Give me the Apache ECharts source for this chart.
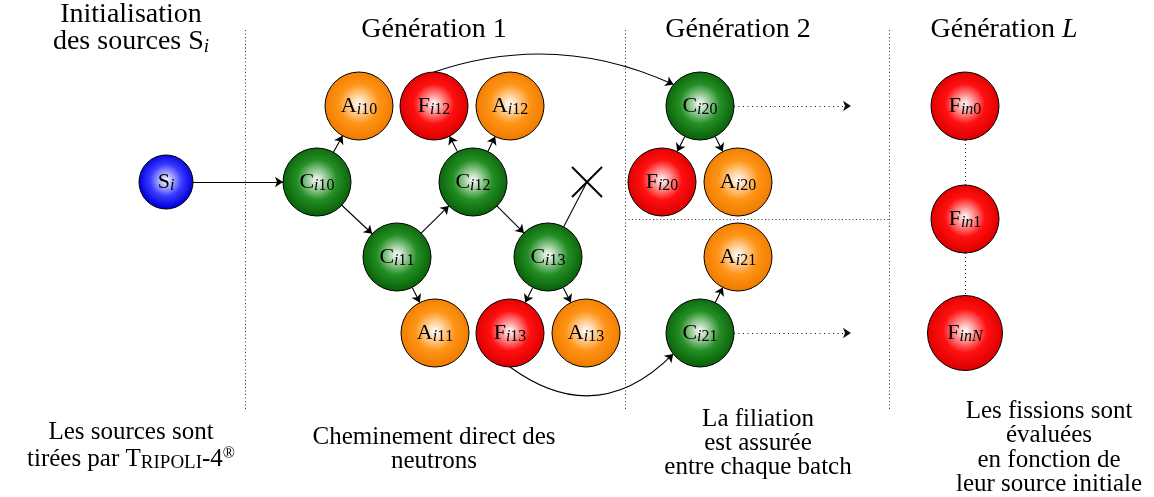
<!DOCTYPE html>
<html><head><meta charset="utf-8">
<script src="https://cdn.jsdelivr.net/npm/echarts@6/dist/echarts.min.js"></script>
<style>html,body{margin:0;padding:0;background:#fff}#c{width:1154px;height:497px}</style>
</head><body><div id="c"></div>
<script>
// ---- diagram data ----
const nodeIds    = ['Si','Ci10','Ai10','Fi12','Ai12','Ci12','Ci11','Ci13','Ai11','Fi13','Ai13','Ci20','Fi20','Ai20','Ai21','Ci21','Fin0','Fin1','FinN'];
const nodeLetter = ['S','C','A','F','A','C','C','C','A','F','A','C','F','A','A','C','F','F','F'];
const nodeSub    = ['i','i10','i10','i12','i12','i12','i11','i13','i11','i13','i13','i20','i20','i20','i21','i21','in0','in1','inN'];
const nodeX      = [166,317,359,434,510,473,397,548,435,510,586,700,662,738,738,700,965,965,965];
const nodeY      = [182,182,106,106,106,182,257,257,333,333,333,106,182,182,257,333,106,219,333];

const straightFrom = ['Si','Ci10','Ci10','Ci11','Ci11','Ci12','Ci12','Ci12','Ci13','Ci13','Ci20','Ci20','Ci21'];
const straightTo   = ['Ci10','Ai10','Ci11','Ci12','Ai11','Fi12','Ai12','Ci13','Fi13','Ai13','Fi20','Ai20','Ai21'];

const curveFrom = ['Fi12','Fi13'];
const curveTo   = ['Ci20','Ci21'];
const curveStartAngle = [-90, 90];
const curveEndAngle   = [-141, 142];
const curveBend       = [0.2, -0.43];

const killedFrom = 'Ci13';
const killedAt   = [587,182];

const continueFrom = ['Ci20','Ci21'];
const continueToX  = [851,851];

const fissionChain = [['Fin0','Fin1'],['Fin1','FinN']];

const dividerX = [245,625,889];
const dividerTop = 30, dividerBottom = 410;
const batchSplitY = 219;

const headerTexts = ['Initialisation\n{n|des sources S}{sub|i}', 'Génération 1', 'Génération 2', '{n|Génération }{it|L}'];
const footerTexts = ['Les sources sont\n{n|tirées par T}{sc|RIPOLI}{n|-4}{sup|®}',
                     'Cheminement direct des\nneutrons',
                     'La filiation\nest assurée\nentre chaque batch',
                     'Les fissions sont\névaluées\nen fonction de\nleur source initiale'];

// ---- styling / layout ----
const FONT = '"Liberation Serif", "DejaVu Serif", serif';
const ballColors = {
  S: ['#3a3aff', '#0000dd'],
  C: ['#248f24', '#0a640a'],
  A: ['#ff9416', '#f07d00'],
  F: ['#ff1010', '#e00000']
};
function ball(letter){
  const c = ballColors[letter];
  return {type:'radial', x:0.5, y:0.47, r:0.5, colorStops:[
    {offset:0, color:'#ffffff'}, {offset:0.58, color:c[0]}, {offset:1, color:c[1]}]};
}
function radius(i){ return nodeLetter[i]==='S' ? 27 : (nodeSub[i]==='inN' ? 37.5 : 34); }
const idx = id => nodeIds.indexOf(id);
function onCircle(i, dx, dy){ const L=Math.hypot(dx,dy), r=radius(i); return [nodeX[i]+dx/L*r, nodeY[i]+dy/L*r]; }
function atAngle(i, deg){ const a=deg*Math.PI/180; return onCircle(i, Math.cos(a), Math.sin(a)); }

function labelFor(i){
  let s = '{m|'+nodeLetter[i]+'}';
  for (const ch of nodeSub[i]) s += (/[0-9]/.test(ch) ? '{sd|'+ch+'}' : '{si|'+ch+'}');
  return s;
}

const arrowLines = [];
straightFrom.forEach((f,k)=>{
  const a=idx(f), b=idx(straightTo[k]);
  const dx=nodeX[b]-nodeX[a], dy=nodeY[b]-nodeY[a];
  arrowLines.push({coords:[onCircle(a,dx,dy), onCircle(b,-dx,-dy)]});
});
curveFrom.forEach((f,k)=>{
  const a=idx(f), b=idx(curveTo[k]);
  arrowLines.push({coords:[atAngle(a,curveStartAngle[k]), atAngle(b,curveEndAngle[k])], lineStyle:{curveness:curveBend[k]}});
});
const plainLines = [];
{
  const a=idx(killedFrom);
  plainLines.push({coords:[onCircle(a, killedAt[0]-nodeX[a], killedAt[1]-nodeY[a]), killedAt]});
}
const crossLines = [
  {coords:[[killedAt[0]-15,killedAt[1]-15],[killedAt[0]+15,killedAt[1]+15]]},
  {coords:[[killedAt[0]-15,killedAt[1]+15],[killedAt[0]+15,killedAt[1]-15]]}
];
const dottedArrows = continueFrom.map((f,k)=>{ const a=idx(f); return {coords:[onCircle(a,1,0),[continueToX[k],nodeY[a]]]}; });
const dottedPlain = fissionChain.map(([f,t])=>{ const a=idx(f), b=idx(t); return {coords:[onCircle(a,0,1), onCircle(b,0,-1)]}; });
const dividers = dividerX.map(x=>({coords:[[x,dividerTop],[x,dividerBottom]]}));
dividers.push({coords:[[dividerX[1],batchSplitY],[dividerX[2],batchSplitY]]});

const richBase = {
  n:{fontFamily:FONT, fontSize:28, fill:'#000', lineHeight:28},
  sub:{fontFamily:FONT, fontSize:19, fontStyle:'italic', fill:'#000', lineHeight:19, verticalAlign:'bottom'},
  it:{fontFamily:FONT, fontSize:28, fontStyle:'italic', fill:'#000', lineHeight:28}
};
const richFoot = {
  n:{fontFamily:FONT, fontSize:25, fill:'#000', lineHeight:27},
  sc:{fontFamily:FONT, fontSize:19, fill:'#000', lineHeight:22, verticalAlign:'bottom'},
  sup:{fontFamily:FONT, fontSize:16, fill:'#000', lineHeight:13, verticalAlign:'top'}
};
const headerPos = [[131,29,26],[434,30,28],[738,30,28],[1004,30,28]];
const footerPos = [[131,446,26],[434,449,24],[758,443,24],[1049,448,24.5]];

const graphics = [];
headerTexts.forEach((t,k)=>{
  graphics.push({type:'text', x:headerPos[k][0], y:headerPos[k][1], silent:true,
    style:{text:t, fontFamily:FONT, fontSize:28, fill:'#000', align:'center', verticalAlign:'middle', lineHeight:headerPos[k][2], rich:richBase}});
});
footerTexts.forEach((t,k)=>{
  graphics.push({type:'text', x:footerPos[k][0], y:footerPos[k][1], silent:true,
    style:{text:t, fontFamily:FONT, fontSize:25, fill:'#000', align:'center', verticalAlign:'middle', lineHeight:footerPos[k][2], rich:richFoot}});
});

const chart = echarts.init(document.getElementById('c'), null, {renderer:'canvas'});
chart.setOption({
  animation:false,
  backgroundColor:'#fff',
  grid:{left:0,right:0,top:0,bottom:0},
  xAxis:{type:'value', min:0, max:1154, show:false},
  yAxis:{type:'value', min:0, max:497, inverse:true, show:false},
  graphic: graphics,
  series:[
    {type:'lines', coordinateSystem:'cartesian2d', z:1, silent:true, symbol:['none','none'],
     lineStyle:{color:'#333', width:1, type:[1,2.5], opacity:1}, data:dividers},
    {type:'lines', coordinateSystem:'cartesian2d', z:2, silent:true, symbol:['none','none'],
     lineStyle:{color:'#222', width:1, type:[1,3], opacity:1}, data:dottedPlain},
    {type:'lines', coordinateSystem:'cartesian2d', z:2, silent:true, symbol:['none','arrow'], symbolSize:8,
     lineStyle:{color:'#111', width:1, type:[1,3.5], opacity:1}, data:dottedArrows},
    {type:'lines', coordinateSystem:'cartesian2d', z:3, silent:true, symbol:['none','arrow'], symbolSize:8,
     lineStyle:{color:'#000', width:1.1, opacity:1}, data:arrowLines},
    {type:'lines', coordinateSystem:'cartesian2d', z:3, silent:true, symbol:['none','none'],
     lineStyle:{color:'#000', width:1.1, opacity:1}, data:plainLines},
    {type:'lines', coordinateSystem:'cartesian2d', z:3, silent:true, symbol:['none','none'],
     lineStyle:{color:'#000', width:2, opacity:1}, data:crossLines},
    {type:'scatter', z:5, silent:true,
     data: nodeIds.map((id,i)=>({value:[nodeX[i],nodeY[i]], symbolSize:2*radius(i),
        itemStyle:{color:ball(nodeLetter[i]), borderColor:'#000', borderWidth:1, opacity:1}})),
     label:{show:true, position:'inside', formatter:p=>labelFor(p.dataIndex),
       rich:{
         m:{fontFamily:FONT, fontSize:22, color:'#000', lineHeight:24},
         si:{fontFamily:FONT, fontSize:16, fontStyle:'italic', color:'#000', lineHeight:18, verticalAlign:'bottom'},
         sd:{fontFamily:FONT, fontSize:16, color:'#000', lineHeight:18, verticalAlign:'bottom'}
       }}
    }
  ]
});
</script></body></html>
